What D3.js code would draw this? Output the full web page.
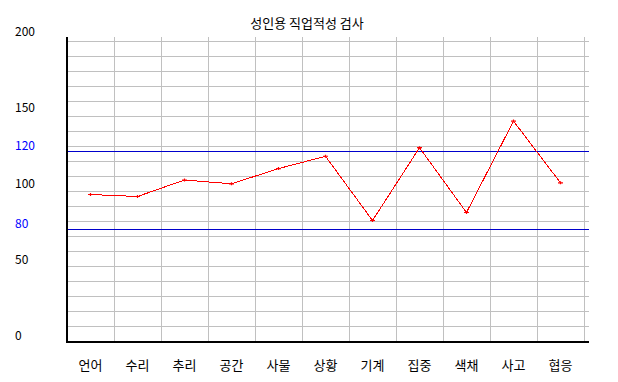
<!DOCTYPE html>
<html>
<head>
<meta charset="utf-8">
<script src="https://cdn.jsdelivr.net/npm/d3@7"></script>
<style>
  html, body { margin: 0; padding: 0; background: #ffffff; }
  svg { display: block; }
  text { font-family: "Noto Sans CJK KR", "Noto Sans", sans-serif; }
</style>
</head>
<body>
<svg id="chart" width="618" height="382"></svg>
<script>
// ---- data ----
const title = "성인용 직업적성 검사";
const categories = ["언어", "수리", "추리", "공간", "사물", "상황", "기계", "집중", "색채", "사고", "협응"];
const scores = [97.5, 96.5, 105, 103, 111, 117.5, 84.5, 123, 88.5, 144, 103.5];
const tickValues = [0, 50, 100, 150, 200];
const refValues = [120, 80];
// the source chart's value axis is not uniform: knots and the fraction of height each sits at
const scaleKnots = [0, 50, 80, 100, 120, 150, 200];
const scaleKnotFractions = [0, 0.25, 0.3684, 0.5, 0.625, 0.75, 1];
const gridRows = 20;

// ---- layout ----
const svg = d3.select("#chart");
const plotLeft = 67, bandRight = 584, gridRight = 589;
const plotBottom = 341.5, plotH = 304, plotTop = plotBottom - plotH;
const gridStep = 15;

const x = d3.scaleBand().domain(categories).range([plotLeft, bandRight]).paddingInner(0).paddingOuter(0);
const y = d3.scaleLinear().domain(scaleKnots).range(scaleKnotFractions.map(f => plotBottom - f * plotH));

// title
svg.append("text")
  .attr("x", 307).attr("y", 24)
  .attr("text-anchor", "middle").attr("dominant-baseline", "middle")
  .attr("font-size", 13).attr("fill", "#000")
  .text(title);

// horizontal grid lines
const g = svg.append("g").attr("shape-rendering", "crispEdges");
g.selectAll("line.hg").data(d3.range(1, gridRows + 1)).join("line")
  .attr("class", "hg")
  .attr("x1", plotLeft).attr("x2", gridRight)
  .attr("y1", d => plotBottom - d * gridStep).attr("y2", d => plotBottom - d * gridStep)
  .attr("stroke", "#c0c0c0").attr("stroke-width", 1);

// vertical grid lines at band boundaries
g.selectAll("line.vg").data(categories).join("line")
  .attr("class", "vg")
  .attr("x1", d => x(d) + x.bandwidth()).attr("x2", d => x(d) + x.bandwidth())
  .attr("y1", plotTop - 0.5).attr("y2", plotBottom)
  .attr("stroke", "#c0c0c0").attr("stroke-width", 1);

// reference lines
g.selectAll("line.ref").data(refValues).join("line")
  .attr("class", "ref")
  .attr("x1", plotLeft).attr("x2", gridRight)
  .attr("y1", d => y(d)).attr("y2", d => y(d))
  .attr("stroke", "#0000cc").attr("stroke-width", 1);

// axes
g.append("line")
  .attr("x1", plotLeft).attr("x2", plotLeft)
  .attr("y1", plotTop - 0.5).attr("y2", plotBottom + 1.5)
  .attr("stroke", "#000").attr("stroke-width", 2);
g.append("line")
  .attr("x1", plotLeft - 1).attr("x2", gridRight)
  .attr("y1", plotBottom + 0.5).attr("y2", plotBottom + 0.5)
  .attr("stroke", "#000").attr("stroke-width", 2);

// y tick labels
svg.selectAll("text.yt").data(tickValues).join("text")
  .attr("class", "yt")
  .attr("x", 15).attr("y", d => y(d) - 5)
  .attr("dominant-baseline", "middle")
  .attr("font-size", 12).attr("fill", "#000")
  .text(d => d);
svg.selectAll("text.yr").data(refValues).join("text")
  .attr("class", "yr")
  .attr("x", 15).attr("y", d => y(d) - 5)
  .attr("dominant-baseline", "middle")
  .attr("font-size", 12).attr("fill", "#0000ff")
  .text(d => d);

// x labels
svg.selectAll("text.xl").data(categories).join("text")
  .attr("class", "xl")
  .attr("x", d => x(d) + x.bandwidth() / 2).attr("y", plotBottom + 25)
  .attr("text-anchor", "middle").attr("dominant-baseline", "middle")
  .attr("font-size", 13).attr("fill", "#000")
  .text(d => d);

// data line
const pts = categories.map((c, i) => [x(c) + x.bandwidth() / 2, y(scores[i])]);
svg.append("path")
  .attr("d", d3.line()(pts))
  .attr("fill", "none").attr("stroke", "#ff0000").attr("stroke-width", 1)
  .attr("shape-rendering", "crispEdges");

// markers
svg.selectAll("path.mk").data(pts).join("path")
  .attr("class", "mk")
  .attr("transform", d => `translate(${d[0]},${d[1]})`)
  .attr("d", "M-2.5,0H2.5M0,-1.5V1.5")
  .attr("stroke", "#ff0000").attr("stroke-width", 1.2).attr("fill", "none");
</script>
</body>
</html>
